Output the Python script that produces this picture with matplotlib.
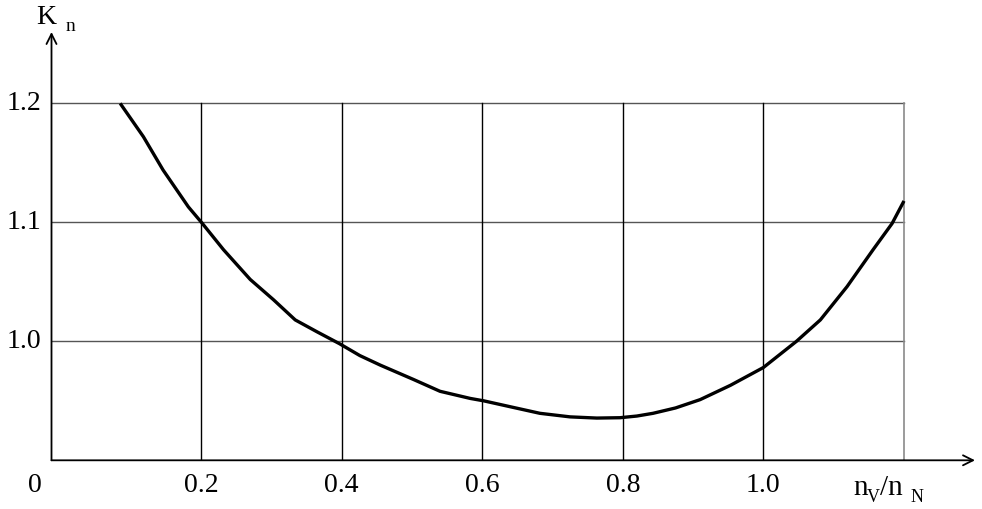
import numpy as np
import matplotlib
matplotlib.use("Agg")
import matplotlib.pyplot as plt

# speed ratio n_V/n_N and coefficient K_n
ratio = [0.085, 0.118, 0.146, 0.182, 0.202, 0.232, 0.270, 0.303, 0.334, 0.365,
         0.397, 0.426, 0.455, 0.502, 0.540, 0.583, 0.602, 0.640, 0.682, 0.725,
         0.763, 0.796, 0.820, 0.843, 0.875, 0.910, 0.953, 1.000, 1.047, 1.081,
         1.119, 1.156, 1.183, 1.200]
k_n = [1.200, 1.172, 1.144, 1.113, 1.099, 1.077, 1.052, 1.035, 1.018, 1.008,
       0.998, 0.988, 0.980, 0.968, 0.958, 0.952, 0.950, 0.945, 0.9395, 0.9365,
       0.9355, 0.9358, 0.9372, 0.9395, 0.944, 0.951, 0.963, 0.978, 1.000, 1.018,
       1.046, 1.077, 1.099, 1.118]

x_ticks = [0.2, 0.4, 0.6, 0.8, 1.0]
x_tick_labels = ["0.2", "0.4", "0.6", "0.8", "1.0"]
y_ticks = [1.0, 1.1, 1.2]
y_tick_labels = ["1.0", "1.1", "1.2"]

plt.rcParams['font.family'] = ['Liberation Serif', 'DejaVu Serif']

fig = plt.figure(figsize=(9.82, 5.09), dpi=100)
ax = fig.add_axes([51.5/982, 1 - 460.3/509, (975 - 51.5)/982, (460.3 - 32)/509])
x0, x1 = -0.0127, 1.301
y0, y1 = 0.9, 1.26
ax.set_xlim(x0, x1)
ax.set_ylim(y0, y1)
ax.axis('off')

# grid
for yv in y_ticks:
    ax.plot([x0, 1.2], [yv, yv], color='#555555', lw=1.0)
for xv in x_ticks:
    ax.plot([xv, xv], [y0, 1.2], color='black', lw=1.0)
ax.plot([1.2, 1.2], [y0, 1.2], color='#8a8a8a', lw=1.2)

# axes with arrows
ax.annotate('', xy=(x1, y0), xytext=(x0, y0), annotation_clip=False,
            arrowprops=dict(arrowstyle='->', lw=1.3, color='black',
                            mutation_scale=18, shrinkA=0, shrinkB=0))
ax.annotate('', xy=(x0, y1), xytext=(x0, y0), annotation_clip=False,
            arrowprops=dict(arrowstyle='->', lw=1.3, color='black',
                            mutation_scale=18, shrinkA=0, shrinkB=0))

# curve
ax.plot(ratio, k_n, color='black', lw=2.4, solid_capstyle='butt',
        solid_joinstyle='round')

fs = 20
for xv, lab in zip(x_ticks, x_tick_labels):
    ax.text(xv, 0.879, lab, ha='center', va='center', fontsize=fs)
ax.text(-0.036, 0.879, "0", ha='center', va='center', fontsize=fs)
for yv, lab in zip(y_ticks, y_tick_labels):
    ax.text(-0.027, yv, lab, ha='right', va='center', fontsize=fs)

# axis labels
ax.text(-0.0198, 1.2724, "K", ha='center', va='center', fontsize=20)
ax.text(0.0137, 1.2650, "n", ha='center', va='center', fontsize=14)
ax.text(1.1388, 0.8768, "n", ha='center', va='center', fontsize=21)
ax.text(1.1559, 0.8690, "V", ha='center', va='center', fontsize=13)
ax.text(1.1820, 0.8768, "/n", ha='center', va='center', fontsize=21)
ax.text(1.2185, 0.8690, "N", ha='center', va='center', fontsize=13)

fig.savefig("out.png", dpi=100, facecolor='white')
